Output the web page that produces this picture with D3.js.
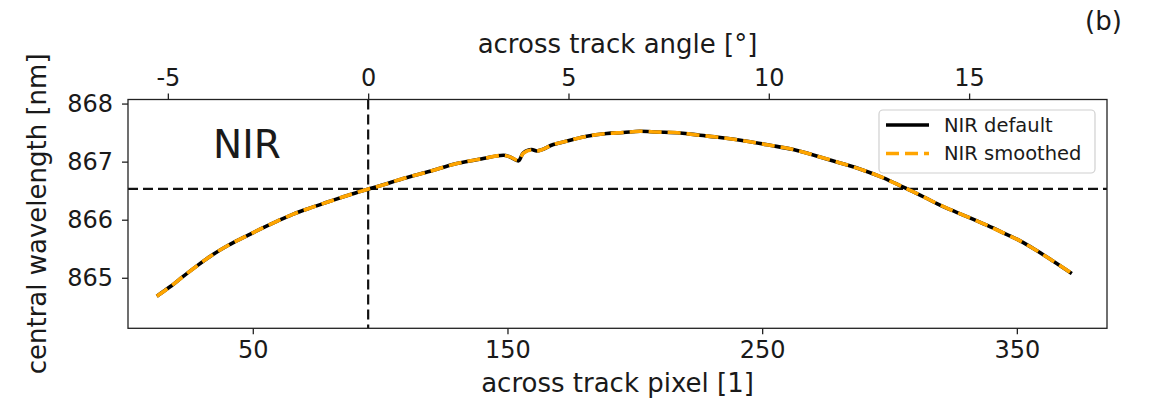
<!DOCTYPE html>
<html>
<head>
<meta charset="utf-8">
<script src="https://cdn.jsdelivr.net/npm/d3@7"></script>
<style>
  html, body { margin: 0; padding: 0; background: #fff; }
  svg { display: block; font-family: "DejaVu Sans", sans-serif; }
</style>
</head>
<body>
<svg id="chart" width="1151" height="407"></svg>
<script>
// Across-track pixel index of each sample
const pixels = [12.3, 17.5, 22.8, 28.6, 34.5, 40.4, 47.0, 52.9, 59.4, 65.9, 73.2, 79.7, 86.2, 92.8,
  96.1, 100.0, 109.1, 119.6, 130.1, 140.5, 148.4, 151.0, 154.3, 156.2, 159.5, 161.5, 168.0,
  174.6, 181.1, 189.0, 195.5, 202.1, 208.6, 217.8, 225.6, 233.5, 244.0, 253.1, 262.2, 272.7,
  280.6, 289.7, 297.6, 305.4, 312.0, 318.6, 325.1, 331.6, 338.2, 344.7, 351.3, 357.1, 363.7, 371.6];

// Central wavelength [nm], default calibration
const nirDefault = [864.683, 864.845, 865.028, 865.222, 865.405, 865.560, 865.708, 865.838, 865.972,
  866.097, 866.212, 866.308, 866.404, 866.496, 866.537, 866.585, 866.709, 866.835, 866.967, 867.053,
  867.110, 867.081, 867.012, 867.150, 867.208, 867.184, 867.294, 867.368, 867.437, 867.484, 867.501,
  867.523, 867.511, 867.494, 867.454, 867.415, 867.351, 867.282, 867.208, 867.081, 866.978, 866.852,
  866.720, 866.560, 866.425, 866.279, 866.151, 866.031, 865.905, 865.773, 865.635, 865.487, 865.303, 865.074];

// Central wavelength [nm], smoothed calibration
const nirSmoothed = [864.683, 864.845, 865.028, 865.222, 865.405, 865.560, 865.708, 865.838, 865.972,
  866.097, 866.212, 866.308, 866.404, 866.496, 866.537, 866.585, 866.709, 866.835, 866.967, 867.053,
  867.108, 867.082, 867.020, 867.145, 867.200, 867.186, 867.294, 867.368, 867.437, 867.484, 867.501,
  867.523, 867.511, 867.494, 867.454, 867.415, 867.351, 867.282, 867.208, 867.081, 866.978, 866.852,
  866.720, 866.560, 866.425, 866.279, 866.151, 866.031, 865.905, 865.773, 865.635, 865.487, 865.303, 865.074];

// Axis ticks
const pixelTicks = [50, 150, 250, 350];
const angleTicks = [-5, 0, 5, 10, 15];
const wavelengthTicks = [865, 866, 867, 868];

// Axis limits and reference lines
const pixelLimits = [1.0, 385.4];
const wavelengthLimits = [864.13, 868.07];
const nadirPixel = 95.3;          // pixel at 0 degrees viewing angle
const degreesPerPixel = 0.06357;  // angular sampling
const referenceWavelength = 866.53;

const seriesNames = ["NIR default", "NIR smoothed"];

const margin = { left: 128, right: 1151 - 1107, top: 99.5, bottom: 407 - 328.3 };
const W = 1151, H = 407;
const svg = d3.select("#chart");

const x = d3.scaleLinear().domain(pixelLimits).range([margin.left, W - margin.right]);
const y = d3.scaleLinear().domain(wavelengthLimits).range([H - margin.bottom, margin.top]);
const toAngle = p => (p - nadirPixel) * degreesPerPixel;
const xTop = d3.scaleLinear().domain(pixelLimits.map(toAngle)).range(x.range());

const textColor = "#1a1a1a";
const fs = 24;        // tick labels
const labelFs = 26;   // axis titles

// Plot area
svg.append("clipPath").attr("id", "plotclip")
  .append("rect")
  .attr("x", x.range()[0]).attr("y", y.range()[1])
  .attr("width", x.range()[1] - x.range()[0])
  .attr("height", y.range()[0] - y.range()[1]);

const plot = svg.append("g").attr("clip-path", "url(#plotclip)");

// Reference lines: nadir and reference wavelength
plot.append("line")
  .attr("x1", xTop(0)).attr("x2", xTop(0))
  .attr("y1", y.range()[1]).attr("y2", y.range()[0])
  .attr("stroke", "#111").attr("stroke-width", 2.2)
  .attr("stroke-dasharray", "10,5");
plot.append("line")
  .attr("x1", x.range()[0]).attr("x2", x.range()[1])
  .attr("y1", y(referenceWavelength)).attr("y2", y(referenceWavelength))
  .attr("stroke", "#111").attr("stroke-width", 2.2)
  .attr("stroke-dasharray", "10,5");

const line = d3.line().x(d => x(d[0])).y(d => y(d[1])).curve(d3.curveMonotoneX);

plot.append("path")
  .datum(pixels.map((p, i) => [p, nirDefault[i]]))
  .attr("d", line)
  .attr("fill", "none").attr("stroke", "#000").attr("stroke-width", 3.6);

plot.append("path")
  .datum(pixels.map((p, i) => [p, nirSmoothed[i]]))
  .attr("d", line)
  .attr("fill", "none").attr("stroke", "#FFA500").attr("stroke-width", 3.6)
  .attr("stroke-dasharray", "13,6");

// Axes
function styleAxis(g) {
  g.select(".domain").remove();
  g.selectAll(".tick line").attr("stroke", "#222").attr("stroke-width", 1.3);
  g.selectAll(".tick text").attr("fill", textColor)
    .style("font-size", fs + "px").style("font-family", "DejaVu Sans");
}

svg.append("g")
  .attr("transform", `translate(0,${y.range()[0]})`)
  .call(d3.axisBottom(x).tickValues(pixelTicks).tickFormat(d3.format("d")).tickSize(6).tickPadding(7))
  .call(styleAxis);

svg.append("g")
  .attr("transform", `translate(0,${y.range()[1]})`)
  .call(d3.axisTop(xTop).tickValues(angleTicks).tickFormat(d => d < 0 ? "-" + Math.abs(d) : String(d)).tickSize(6).tickPadding(8))
  .call(styleAxis);

svg.append("g")
  .attr("transform", `translate(${x.range()[0]},0)`)
  .call(d3.axisLeft(y).tickValues(wavelengthTicks).tickFormat(d3.format("d")).tickSize(6).tickPadding(9))
  .call(styleAxis);

// Frame
svg.append("rect")
  .attr("x", x.range()[0]).attr("y", y.range()[1])
  .attr("width", x.range()[1] - x.range()[0])
  .attr("height", y.range()[0] - y.range()[1])
  .attr("fill", "none").attr("stroke", "#222").attr("stroke-width", 1.3);

// Axis titles
svg.append("text")
  .attr("x", (x.range()[0] + x.range()[1]) / 2).attr("y", 392)
  .attr("text-anchor", "middle").attr("fill", textColor)
  .style("font-size", labelFs + "px")
  .text("across track pixel [1]");

svg.append("text")
  .attr("x", (x.range()[0] + x.range()[1]) / 2).attr("y", 53)
  .attr("text-anchor", "middle").attr("fill", textColor)
  .style("font-size", labelFs + "px")
  .text("across track angle [°]");

svg.append("text")
  .attr("transform", `translate(46,${(y.range()[0] + y.range()[1]) / 2}) rotate(-90)`)
  .attr("text-anchor", "middle").attr("fill", textColor)
  .style("font-size", labelFs + "px")
  .text("central wavelength [nm]");

// Panel annotations
svg.append("text")
  .attr("x", 213).attr("y", 158)
  .attr("fill", textColor).style("font-size", "39px")
  .text("NIR");

svg.append("text")
  .attr("x", 1085).attr("y", 30)
  .attr("fill", textColor).style("font-size", "26px")
  .text("(b)");

// Legend
const legend = svg.append("g");
legend.append("rect")
  .attr("x", 879).attr("y", 110).attr("width", 216).attr("height", 63)
  .attr("rx", 4).attr("ry", 4)
  .attr("fill", "#fff").attr("fill-opacity", 0.8)
  .attr("stroke", "#d0d0d0").attr("stroke-width", 1.2);

const legendRows = [
  { name: seriesNames[0], y: 125, color: "#000", dash: null },
  { name: seriesNames[1], y: 153.5, color: "#FFA500", dash: "13,6" }
];
legendRows.forEach(r => {
  const l = legend.append("line")
    .attr("x1", 886).attr("x2", 929)
    .attr("y1", r.y).attr("y2", r.y)
    .attr("stroke", r.color).attr("stroke-width", 3.6);
  if (r.dash) l.attr("stroke-dasharray", r.dash);
  legend.append("text")
    .attr("x", 944).attr("y", r.y)
    .attr("dominant-baseline", "central")
    .attr("fill", textColor).style("font-size", "19.5px")
    .text(r.name);
});
</script>
</body>
</html>
